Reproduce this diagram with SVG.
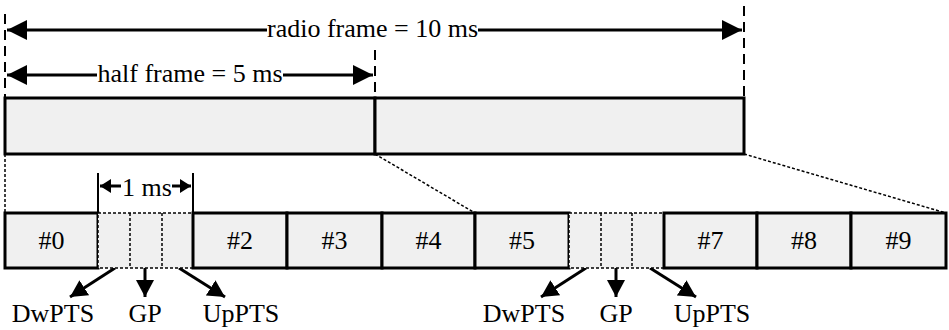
<svg xmlns="http://www.w3.org/2000/svg" width="949" height="330" viewBox="0 0 949 330" font-family="'Liberation Serif', 'Times New Roman', serif" font-size="26">
<style>
.t{font-family:"Liberation Serif","Times New Roman",serif;font-size:26px;fill:#000}
.sf{fill:#f0f0f0;stroke:#000;stroke-width:3}
.sp{fill:#f0f0f0;stroke:#000;stroke-width:1.5;stroke-dasharray:3 2}
.dash{stroke:#000;stroke-width:2;stroke-dasharray:10 6;fill:none}
.dot{stroke:#000;stroke-width:1.5;stroke-dasharray:3 2;fill:none}
.ln{stroke:#000;stroke-width:3;fill:none}
.tk{stroke:#000;stroke-width:2;fill:none}
</style>
<defs>
<marker id="big" markerUnits="userSpaceOnUse" markerWidth="22" markerHeight="20" refX="20" refY="10" orient="auto-start-reverse"><path d="M0,0 L20,10 L0,20 Z" fill="#000"/></marker>
<marker id="sm" markerUnits="userSpaceOnUse" markerWidth="12" markerHeight="14" refX="11" refY="7" orient="auto-start-reverse"><path d="M0,0 L11,7 L0,14 Z" fill="#000"/></marker>
<marker id="md" markerUnits="userSpaceOnUse" markerWidth="18" markerHeight="18" refX="17" refY="9" orient="auto"><path d="M0,0 L17,9 L0,18 Z" fill="#000"/></marker>
</defs>
<g id="connectors">
<line class="dash" x1="5" y1="14" x2="5" y2="98"/>
<line class="dash" x1="744" y1="6" x2="744" y2="98"/>
<line class="dash" x1="375" y1="50" x2="375" y2="98"/>
<line class="ln" x1="7" y1="30" x2="267" y2="30" marker-start="url(#big)"/>
<line class="ln" x1="478" y1="30" x2="742" y2="30" marker-end="url(#big)"/>
<line class="ln" x1="7" y1="75" x2="97" y2="75" marker-start="url(#big)"/>
<line class="ln" x1="283" y1="75" x2="373" y2="75" marker-end="url(#big)"/>
<line class="dot" x1="5" y1="154" x2="5" y2="213"/>
<line class="dot" x1="375" y1="154" x2="475" y2="213"/>
<line class="dot" x1="744" y1="154" x2="946" y2="213"/>
<line class="tk" x1="98" y1="173" x2="98" y2="213"/>
<line class="tk" x1="193" y1="173" x2="193" y2="213"/>
<line class="ln" x1="100" y1="186" x2="121" y2="186" marker-start="url(#sm)"/>
<line class="ln" x1="172" y1="186" x2="191" y2="186" marker-end="url(#sm)"/>
<line class="ln" x1="115" y1="268" x2="70" y2="297" marker-end="url(#md)"/>
<line class="ln" x1="145" y1="268" x2="145" y2="297" marker-end="url(#md)"/>
<line class="ln" x1="179" y1="268" x2="225" y2="297" marker-end="url(#md)"/>
<line class="ln" x1="586" y1="268" x2="541" y2="297" marker-end="url(#md)"/>
<line class="ln" x1="616" y1="268" x2="616" y2="297" marker-end="url(#md)"/>
<line class="ln" x1="650" y1="268" x2="696" y2="297" marker-end="url(#md)"/>
</g>
<g id="frame">
<rect class="sf" x="5" y="98" width="370" height="56"/>
<rect class="sf" x="375" y="98" width="369" height="56"/>
</g>
<g id="labels-top">
<text class="t" x="372.5" y="37" text-anchor="middle">radio frame = 10 ms</text>
<text class="t" x="190" y="82" text-anchor="middle">half frame = 5 ms</text>
<text class="t" x="147" y="196" text-anchor="middle">1 ms</text>
</g>
<g id="sf0"><rect class="sf" x="5" y="213" width="93" height="55"/><text class="t" x="51.5" y="249" text-anchor="middle">#0</text></g>
<g id="sf1"><rect class="sp" x="98" y="213" width="95" height="55"/><line class="dot" x1="130" y1="213" x2="130" y2="268"/><line class="dot" x1="162" y1="213" x2="162" y2="268"/></g>
<g id="sf2"><rect class="sf" x="193" y="213" width="94" height="55"/><text class="t" x="240" y="249" text-anchor="middle">#2</text></g>
<g id="sf3"><rect class="sf" x="287" y="213" width="95" height="55"/><text class="t" x="334.5" y="249" text-anchor="middle">#3</text></g>
<g id="sf4"><rect class="sf" x="382" y="213" width="93" height="55"/><text class="t" x="428.5" y="249" text-anchor="middle">#4</text></g>
<g id="sf5"><rect class="sf" x="475" y="213" width="94" height="55"/><text class="t" x="522" y="249" text-anchor="middle">#5</text></g>
<g id="sf6"><rect class="sp" x="569" y="213" width="95" height="55"/><line class="dot" x1="601" y1="213" x2="601" y2="268"/><line class="dot" x1="632" y1="213" x2="632" y2="268"/></g>
<g id="sf7"><rect class="sf" x="664" y="213" width="93" height="55"/><text class="t" x="710.5" y="249" text-anchor="middle">#7</text></g>
<g id="sf8"><rect class="sf" x="757" y="213" width="94" height="55"/><text class="t" x="804" y="249" text-anchor="middle">#8</text></g>
<g id="sf9"><rect class="sf" x="851" y="213" width="95" height="55"/><text class="t" x="898.5" y="249" text-anchor="middle">#9</text></g>
<g id="labels-bottom">
<text class="t" x="53" y="322" text-anchor="middle">DwPTS</text>
<text class="t" x="145" y="322" text-anchor="middle">GP</text>
<text class="t" x="241" y="322" text-anchor="middle">UpPTS</text>
<text class="t" x="524" y="322" text-anchor="middle">DwPTS</text>
<text class="t" x="616" y="322" text-anchor="middle">GP</text>
<text class="t" x="712" y="322" text-anchor="middle">UpPTS</text>
</g>
</svg>
